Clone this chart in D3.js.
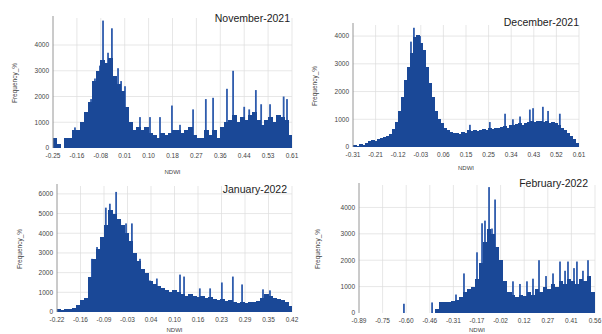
<!DOCTYPE html>
<html>
<head>
<meta charset="utf-8">
<script src="https://cdn.jsdelivr.net/npm/d3@7"></script>
<style>
  html, body { margin: 0; padding: 0; background: #fff; }
  svg { display: block; font-family: "Liberation Sans", Arial, sans-serif; }
</style>
</head>
<body>
<div id="outlet"></div>
<script>
// ---- data ----
// NDWI histograms, frequency counts. Base = coarse envelope bins, spikes = thin tall bins [ndwi, count]

const novTicks = ["-0.25", "-0.16", "-0.08", "0.01", "0.10", "0.18", "0.27", "0.36", "0.44", "0.53", "0.61"];
const novBase = [400, 150, 0, 400, 400, 700, 700, 1000, 1400, 1800, 2600, 3000, 3400, 3300, 3500, 2800, 2500, 2200, 1600, 1000,
  700, 800, 700, 800, 600, 500, 400, 600, 500, 600, 700, 700, 600, 700, 800, 500, 400, 400, 700, 500,
  700, 400, 800, 1000, 1100, 1300, 1000, 1200, 1100, 1300, 1400, 1100, 900, 1100, 1200, 1000, 1300, 1200, 1100, 500];
const novSpikes = [[-0.171, 800], [-0.113, 1900], [-0.099, 2700], [-0.081, 3200], [-0.07, 4950], [-0.052, 3700], [-0.038, 4650],
  [-0.016, 3100], [-0.005, 2600], [0.009, 2400], [0.02, 1500], [0.063, 1200], [0.099, 1200], [0.135, 1200], [0.178, 1650],
  [0.207, 900], [0.254, 1500], [0.30, 1900], [0.326, 1950], [0.376, 2300], [0.398, 3000], [0.438, 1600], [0.456, 1500],
  [0.48, 2250], [0.499, 1700], [0.531, 1700], [0.58, 2000], [0.592, 1900]];

const decTicks = ["-0.31", "-0.21", "-0.12", "-0.03", "0.06", "0.15", "0.25", "0.34", "0.43", "0.52", "0.61"];
const decBase = [80, 50, 100, 60, 150, 200, 250, 220, 300, 330, 350, 400, 480, 650, 900, 1300, 1800, 2400, 2900, 3400,
  3950, 4050, 3750, 3500, 2900, 2300, 1800, 1300, 1000, 850, 700, 600, 550, 500, 520, 480, 550, 520, 600, 560,
  620, 580, 600, 650, 620, 680, 650, 700, 680, 720, 750, 700, 780, 800, 820, 850, 800, 880, 900, 950,
  900, 920, 950, 900, 950, 880, 900, 850, 800, 700, 600, 500, 400, 300, 150];
const decSpikes = [[-0.074, 3800], [-0.062, 4300], [-0.037, 4000], [0.166, 800], [0.247, 900], [0.309, 1200], [0.341, 1000],
  [0.37, 1100], [0.41, 1350], [0.423, 1400], [0.463, 1450], [0.484, 1300], [0.532, 1200]];

const janTicks = ["-0.22", "-0.16", "-0.09", "-0.03", "0.04", "0.10", "0.16", "0.23", "0.29", "0.35", "0.42"];
const janBase = [150, 100, 150, 150, 200, 350, 600, 700, 1800, 2700, 3200, 3800, 4400, 5200, 5000, 4700, 4400, 4000, 3600, 3000,
  2600, 2200, 2000, 1600, 1400, 1300, 1200, 1100, 1000, 1100, 1000, 900, 800, 900, 800, 750, 800, 700, 750, 650,
  600, 650, 550, 600, 500, 450, 500, 450, 500, 500, 550, 700, 900, 800, 700, 650, 600, 500, 300];
const janSpikes = [[-0.125, 2700], [-0.111, 3300], [-0.087, 5300], [-0.076, 5500], [-0.059, 6100], [-0.048, 4600], [-0.032, 4500],
  [-0.016, 4500], [0.006, 2700], [0.033, 1600], [0.052, 1700], [0.115, 1900], [0.126, 1800], [0.169, 1200], [0.197, 1200],
  [0.229, 1500], [0.259, 1800], [0.284, 1400], [0.341, 1150], [0.36, 1100]];

const febTicks = ["-0.89", "-0.75", "-0.60", "-0.46", "-0.31", "-0.17", "-0.02", "0.12", "0.27", "0.41", "0.56"];
const febBase = [0, 0, 0, 0, 0, 0, 0, 0, 0, 0, 0, 0, 0, 0, 0, 0, 0, 0, 0, 150,
  400, 400, 400, 450, 500, 600, 800, 900, 1000, 1300, 1900, 2700, 3200, 3000, 2500, 2000, 1200, 800, 700, 600,
  700, 650, 800, 700, 900, 800, 1000, 900, 1100, 1000, 1200, 1100, 1300, 1200, 1100, 1300, 1200, 1400, 800];
const febSpikes = [[-0.614, 350], [-0.441, 400], [-0.294, 700], [-0.245, 1500], [-0.165, 2300], [-0.134, 3400], [-0.116, 3500],
  [-0.091, 4770], [-0.073, 3200], [-0.054, 4300], [-0.036, 2500], [0.056, 1200], [0.099, 1100], [0.142, 1200], [0.179, 1300],
  [0.216, 2000], [0.259, 1400], [0.302, 1500], [0.345, 1950], [0.376, 1600], [0.394, 1950], [0.431, 1700], [0.449, 1950],
  [0.486, 1600], [0.517, 2000]];

const yTicksNov = [0, 1000, 2000, 3000, 4000];
const yTicksDec = [0, 1000, 2000, 3000, 4000];
const yTicksJan = [0, 1000, 2000, 3000, 4000, 5000, 6000];
const yTicksFeb = [0, 1000, 2000, 3000, 4000];

const width = 602, height = 334;
const barColor = "#1a4897";
const spikeColor = "#2f5cad";

const svg = d3.select("#outlet").append("svg")
  .attr("width", width)
  .attr("height", height)
  .attr("viewBox", [0, 0, width, height]);

function drawPanel({ title, xTicks, base, spikes, yTicks, yMax, left, right, top, bottom, titleX, titleY, yLabelX, xLabelY }) {
  const xMin = +xTicks[0], xMax = +xTicks[xTicks.length - 1];
  const x = d3.scaleLinear().domain([xMin, xMax]).range([left, right]);
  const y = d3.scaleLinear().domain([0, yMax]).range([bottom, top]);
  // tick positions evenly spread over the domain (labels are the rounded values)
  const tickPos = d3.range(xTicks.length).map(i => xMin + i * (xMax - xMin) / (xTicks.length - 1));

  const g = svg.append("g");

  // grid
  g.append("g")
    .attr("stroke", "#dcdcdc")
    .attr("stroke-width", 0.7)
    .selectAll("line.v")
    .data(tickPos.slice(1))
    .join("line")
    .attr("x1", d => x(d)).attr("x2", d => x(d))
    .attr("y1", top).attr("y2", bottom);
  g.append("g")
    .attr("stroke", "#dcdcdc")
    .attr("stroke-width", 0.7)
    .selectAll("line.h")
    .data(yTicks.slice(1))
    .join("line")
    .attr("x1", left).attr("x2", right)
    .attr("y1", d => y(d)).attr("y2", d => y(d));

  // thin spike bins (behind the envelope so only their tops show)
  g.append("g")
    .attr("fill", spikeColor)
    .selectAll("rect")
    .data(spikes)
    .join("rect")
    .attr("x", d => x(d[0]) - 0.9)
    .attr("width", 1.8)
    .attr("y", d => y(d[1]))
    .attr("height", d => bottom - y(d[1]));

  // base bins
  const bw = (xMax - xMin) / base.length;
  g.append("g")
    .attr("fill", barColor)
    .attr("shape-rendering", "crispEdges")
    .selectAll("rect")
    .data(base)
    .join("rect")
    .attr("x", (d, i) => Math.floor(x(xMin + i * bw)))
    .attr("width", (d, i) => Math.ceil(x(xMin + (i + 1) * bw)) - Math.floor(x(xMin + i * bw)))
    .attr("y", d => y(d))
    .attr("height", d => bottom - y(d));

  // y axis line
  g.append("line")
    .attr("x1", left).attr("x2", left)
    .attr("y1", top - 2).attr("y2", bottom)
    .attr("stroke", "#8a8a8a")
    .attr("stroke-width", 0.9);

  // y tick labels
  g.append("g")
    .attr("font-size", 6.5)
    .attr("fill", "#444")
    .attr("text-anchor", "end")
    .selectAll("text")
    .data(yTicks)
    .join("text")
    .attr("x", left - 4)
    .attr("y", d => y(d) + 2.3)
    .text(d => d);

  // x tick labels
  g.append("g")
    .attr("font-size", 6.5)
    .attr("fill", "#444")
    .attr("text-anchor", "middle")
    .selectAll("text")
    .data(xTicks)
    .join("text")
    .attr("x", (d, i) => x(tickPos[i]))
    .attr("y", bottom + 10)
    .text(d => d);

  // axis titles
  g.append("text")
    .attr("x", (left + right) / 2)
    .attr("y", xLabelY)
    .attr("font-size", 6)
    .attr("fill", "#444")
    .attr("text-anchor", "middle")
    .text("NDWI");
  g.append("text")
    .attr("transform", `translate(${yLabelX},${(top + bottom) / 2}) rotate(-90)`)
    .attr("font-size", 6.5)
    .attr("fill", "#444")
    .attr("text-anchor", "middle")
    .text("Frequency_%");

  // panel title
  g.append("text")
    .attr("x", titleX)
    .attr("y", titleY)
    .attr("font-size", 10.5)
    .attr("fill", "#222")
    .attr("text-anchor", "end")
    .text(title);
}

drawPanel({ title: "November-2021", xTicks: novTicks, base: novBase, spikes: novSpikes, yTicks: yTicksNov, yMax: 5050,
  left: 53, right: 292, top: 18, bottom: 148, titleX: 290, titleY: 22, yLabelX: 17, xLabelY: 174 });
drawPanel({ title: "December-2021", xTicks: decTicks, base: decBase, spikes: decSpikes, yTicks: yTicksDec, yMax: 4400,
  left: 353, right: 579, top: 25, bottom: 147, titleX: 579, titleY: 26, yLabelX: 317, xLabelY: 170 });
drawPanel({ title: "January-2022", xTicks: janTicks, base: janBase, spikes: janSpikes, yTicks: yTicksJan, yMax: 6400,
  left: 57, right: 292, top: 186, bottom: 312, titleX: 287, titleY: 193, yLabelX: 22, xLabelY: 332 });
drawPanel({ title: "February-2022", xTicks: febTicks, base: febBase, spikes: febSpikes, yTicks: yTicksFeb, yMax: 4850,
  left: 359, right: 595, top: 185, bottom: 313, titleX: 588, titleY: 187, yLabelX: 320, xLabelY: 332 });
</script>
</body>
</html>
